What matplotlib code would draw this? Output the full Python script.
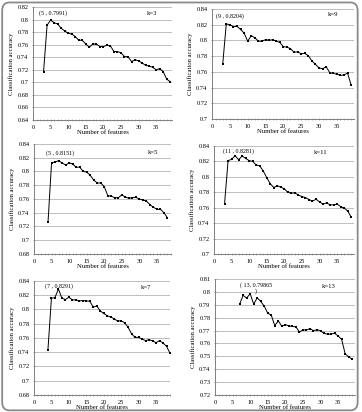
import matplotlib
matplotlib.use("Agg")
import matplotlib.pyplot as plt
from matplotlib.patches import FancyBboxPatch
from matplotlib.ticker import MultipleLocator, FuncFormatter

plt.rcParams['font.family'] = ['Liberation Serif', 'DejaVu Serif']

# ---- data ----
x_k3 = list(range(3, 40))
y_k3 = [0.717, 0.791, 0.7991, 0.795, 0.793, 0.786, 0.782, 0.778, 0.777, 0.773,
        0.767, 0.767, 0.761, 0.756, 0.761, 0.761, 0.757, 0.757, 0.759, 0.758,
        0.749, 0.749, 0.747, 0.741, 0.741, 0.733, 0.736, 0.734, 0.731, 0.727,
        0.726, 0.724, 0.720, 0.722, 0.717, 0.705, 0.701]

x_k9 = list(range(3, 40))
y_k9 = [0.7696, 0.821, 0.820, 0.8175, 0.818, 0.814, 0.8094, 0.799, 0.806, 0.8035,
        0.799, 0.799, 0.801, 0.800, 0.801, 0.799, 0.7975, 0.792, 0.7915, 0.7895,
        0.785, 0.7855, 0.783, 0.7835, 0.7805, 0.774, 0.7695, 0.765, 0.764, 0.7665,
        0.759, 0.758, 0.757, 0.7555, 0.756, 0.7585, 0.743]

x_k5 = list(range(4, 39))
y_k5 = [0.727, 0.8128, 0.8138, 0.8158, 0.8124, 0.8095, 0.8124, 0.811, 0.806, 0.8065,
        0.800, 0.7993, 0.7944, 0.7876, 0.7833, 0.7833, 0.778, 0.765, 0.764, 0.762,
        0.762, 0.7658, 0.763, 0.761, 0.762, 0.7624, 0.760, 0.7585, 0.757, 0.7518,
        0.748, 0.745, 0.745, 0.740, 0.7324]

x_k11 = list(range(3, 40))
y_k11 = [0.765, 0.821, 0.8227, 0.8274, 0.8222, 0.827, 0.824, 0.821, 0.820, 0.8153,
         0.8144, 0.8075, 0.799, 0.791, 0.7862, 0.7884, 0.7867, 0.7845, 0.7798, 0.7789,
         0.7793, 0.7763, 0.7745, 0.7732, 0.7706, 0.7685, 0.771, 0.7676, 0.7646, 0.7663,
         0.7637, 0.7637, 0.7646, 0.7615, 0.7594, 0.7559, 0.7477]

x_k7 = list(range(4, 40))
y_k7 = [0.7437, 0.8158, 0.8167, 0.8288, 0.8158, 0.814, 0.8172, 0.8135, 0.8135, 0.812,
        0.8126, 0.812, 0.8116, 0.8033, 0.805, 0.798, 0.7944, 0.7912, 0.7893, 0.787,
        0.7837, 0.7842, 0.7814, 0.7749, 0.7656, 0.7609, 0.7609, 0.7586, 0.7563, 0.7577,
        0.7558, 0.7535, 0.7563, 0.753, 0.7484, 0.7386]

x_k13 = list(range(7, 40))
y_k13 = [0.7905, 0.7973, 0.7952, 0.7986, 0.7905, 0.7954, 0.7926, 0.7889, 0.7835, 0.7819,
         0.7738, 0.7775, 0.7733, 0.7746, 0.7736, 0.7733, 0.7728, 0.7689, 0.7705, 0.7705,
         0.7715, 0.7699, 0.7707, 0.7699, 0.7679, 0.7671, 0.7673, 0.7679, 0.7658, 0.7632,
         0.752, 0.7496, 0.7478]

peak_labels = ["(5 , 0.7991)", "(9 , 0.8204)", "(5 , 0.8151)",
               "(11 , 0.8281)", "(7 , 0.8291)", "( 13, 0.79865\n)"]
k_labels = ["k=3", "k=9", "k=5", "k=11", "k=7", "k=13"]
xlabel_text = "Number of features"
ylabel_text = "Classification accuracy"

W, H = 362, 412
fig = plt.figure(figsize=(W / 100, H / 100), dpi=100)

# frame around the whole picture
frame = FancyBboxPatch((0.006, 0.004), 0.982, 0.99,
                       boxstyle="round,pad=0,rounding_size=0.02",
                       transform=fig.transFigure, fill=False,
                       edgecolor="#8a8a8a", linewidth=1.3)
fig.patches.append(frame)

def px_axes(l, t, r, b):
    return fig.add_axes([l / W, 1 - b / H, (r - l) / W, (b - t) / H])

panels = [
    dict(box=(33, 7, 172, 120), x=x_k3, y=y_k3, ylim=(0.64, 0.82), step=0.02, xmax=39.5,
         lab=peak_labels[0], labpos=(5.8, 0.8103), k=k_labels[0], kpos=(33.7, 0.8095)),
    dict(box=(212, 9, 354, 119), x=x_k9, y=y_k9, ylim=(0.70, 0.84), step=0.02, xmax=39.8,
         lab=peak_labels[1], labpos=(5.0, 0.8315), k=k_labels[1], kpos=(34.0, 0.8325)),
    dict(box=(34, 144, 171, 254), x=x_k5, y=y_k5, ylim=(0.68, 0.84), step=0.02, xmax=39.0,
         lab=peak_labels[2], labpos=(7.3, 0.8264), k=k_labels[2], kpos=(34.0, 0.828)),
    dict(box=(214, 146, 354, 254), x=x_k11, y=y_k11, ylim=(0.70, 0.84), step=0.02, xmax=39.8,
         lab=peak_labels[3], labpos=(7.0, 0.833), k=k_labels[3], kpos=(30.3, 0.832)),
    dict(box=(34, 281, 170, 395), x=x_k7, y=y_k7, ylim=(0.68, 0.84), step=0.02, xmax=39.0,
         lab=peak_labels[4], labpos=(7.2, 0.8326), k=k_labels[4], kpos=(32.0, 0.8307)),
    dict(box=(215, 279, 355, 395), x=x_k13, y=y_k13, ylim=(0.72, 0.81), step=0.01, xmax=39.8,
         lab=peak_labels[5], labpos=(11.6, 0.8032), k=k_labels[5], kpos=(32.3, 0.8038)),
]

fmt = FuncFormatter(lambda v, p: ("%.2f" % v).rstrip('0').rstrip('.') if v != 0 else "0")

for p in panels:
    ax = px_axes(*p["box"])
    ax.plot(p["x"], p["y"], color="black", linewidth=0.7, marker="s",
            markersize=1.5, markerfacecolor="black", markeredgewidth=0)
    ax.set_xlim(0, p["xmax"])
    ax.set_ylim(*p["ylim"])
    ax.yaxis.set_major_locator(MultipleLocator(p["step"]))
    ax.yaxis.set_major_formatter(fmt)
    ax.xaxis.set_major_locator(MultipleLocator(5))
    ax.xaxis.set_minor_locator(MultipleLocator(1))
    ax.xaxis.set_major_formatter(FuncFormatter(lambda v, q: "%d" % v if v < 38 else ""))
    ax.grid(axis="y", color="#bdbdbd", linewidth=0.7)
    ax.set_axisbelow(True)
    for s in ("top", "right"):
        ax.spines[s].set_visible(False)
    for s in ("left", "bottom"):
        ax.spines[s].set_color("#808080")
        ax.spines[s].set_linewidth(0.7)
    ax.tick_params(axis="both", labelsize=4.6, colors="#808080", labelcolor="black",
                   length=1.5, width=0.5, direction="inout", pad=2.5)
    ax.tick_params(axis="x", which="minor", length=1.2, width=0.4, colors="#808080",
                   direction="inout")
    ax.set_xlabel(xlabel_text, fontsize=4.8, labelpad=0.5)
    ax.set_ylabel(ylabel_text, fontsize=4.8, labelpad=2.5)
    ax.text(p["labpos"][0], p["labpos"][1], p["lab"], fontsize=4.3, ha="center",
            va="center", linespacing=1.0)
    ax.text(p["kpos"][0], p["kpos"][1], p["k"], fontsize=4.8, ha="center", va="center")

fig.savefig("out.png", dpi=100, facecolor="white")
